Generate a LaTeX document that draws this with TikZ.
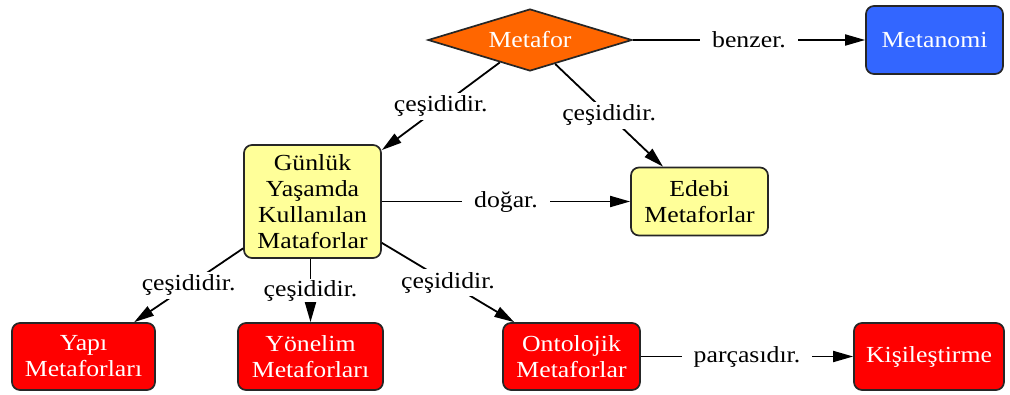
\documentclass[tikz,border=0pt]{standalone}
\usepackage{fontspec}
\setmainfont{Liberation Serif}[FakeStretch=1.12]
\usetikzlibrary{arrows.meta,shapes.geometric}
\definecolor{orangeM}{HTML}{FF6600}
\definecolor{blueM}{HTML}{3366FF}
\definecolor{yellowM}{HTML}{FFFF99}
\definecolor{redM}{HTML}{FF0000}
\tikzset{
  base/.style={draw=black!85, line width=1.7pt, align=center, inner sep=2pt,
    font=\fontsize{23}{26}\selectfont},
  box/.style={base, rounded corners=8pt, minimum width=137pt, minimum height=68pt},
  yellowbox/.style={box, fill=yellowM, text=black},
  redbox/.style={box, fill=redM, text=white},
  bluebox/.style={box, fill=blueM, text=white},
  dia/.style={base, diamond, aspect=3.3, fill=orangeM, text=white,
    minimum width=204pt, minimum height=62pt, inner sep=0pt},
  conn/.style={line width=1.8pt, -{Triangle[length=20pt,width=11pt]}},
  lab/.style={fill=white, inner xsep=12pt, inner ysep=3pt, text=black,
    font=\fontsize{23}{26}\selectfont}
}
\begin{document}
\begin{tikzpicture}[x=1pt,y=-1pt]
\useasboundingbox (0,0) rectangle (1010,394);
\node[dia] (metafor) at (530,40) {Metafor};
\node[bluebox] (metanomi) at (934.5,40) {Metanomi};
\node[yellowbox, minimum height=113pt] (gunluk) at (312.5,201.5) {Günlük\\Yaşamda\\Kullanılan\\Mataforlar};
\node[yellowbox] (edebi) at (699.5,201.5) {Edebi\\Metaforlar};
\node[redbox, minimum width=143pt, minimum height=67pt] (yapi) at (83.5,356.5) {Yapı\\Metaforları};
\node[redbox, minimum width=145pt, minimum height=67pt] (yonelim) at (310.5,356.5) {Yönelim\\Metaforları};
\node[redbox, minimum height=67pt] (ontolojik) at (571.5,356.5) {Ontolojik\\Metaforlar};
\node[redbox, minimum width=150pt, minimum height=67pt] (kisi) at (929,356.5) {Kişileştirme};

\draw[conn] (metafor) -- node[lab] {benzer.} (metanomi);
\draw[conn] (metafor) -- node[lab, inner xsep=2pt] {çeşididir.} (gunluk);
\draw[conn] (metafor) -- node[lab, inner xsep=2pt] {çeşididir.} (edebi);
\draw[conn] (gunluk) -- node[lab] {doğar.} (edebi);
\draw[conn] (gunluk) -- node[lab, inner xsep=2pt] {çeşididir.} (yapi);
\draw[conn] (gunluk.south -| yonelim) -- node[lab, inner xsep=2pt, inner ysep=1pt] {çeşididir.} (yonelim);
\draw[conn] (gunluk) -- node[lab, inner xsep=2pt] {çeşididir.} (ontolojik);
\draw[conn] (ontolojik) -- node[lab] {parçasıdır.} (kisi);
\end{tikzpicture}
\end{document}
